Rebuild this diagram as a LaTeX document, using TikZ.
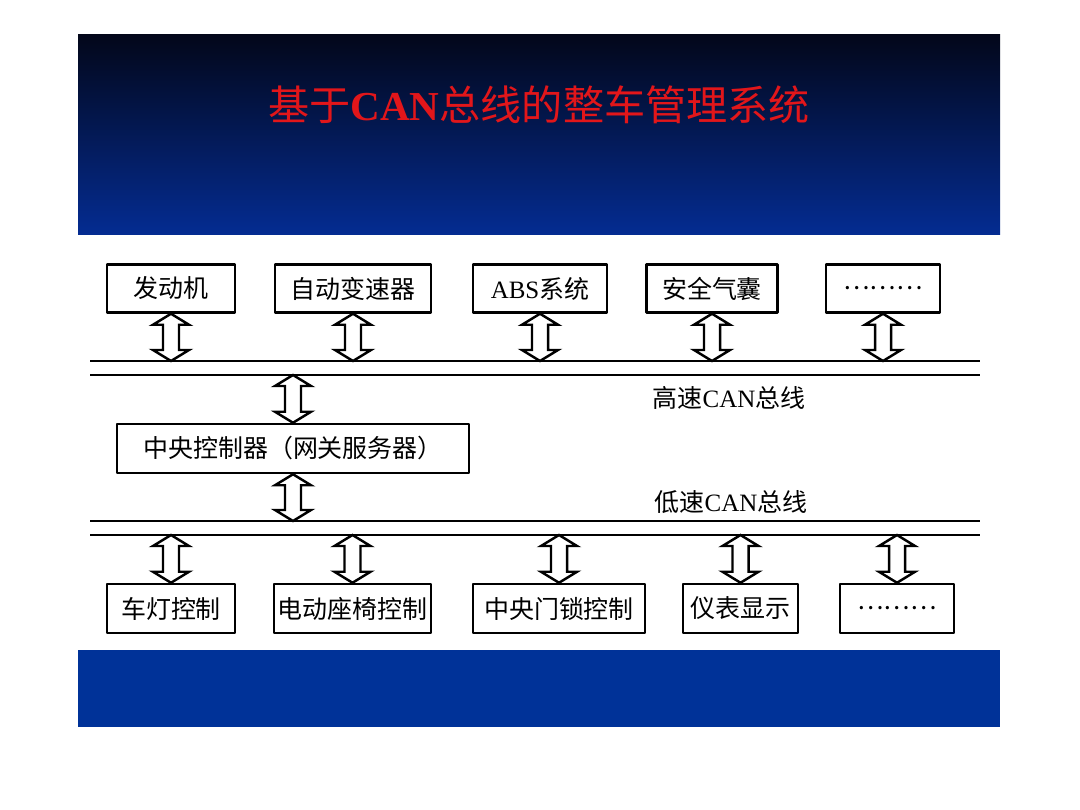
\documentclass[tikz,border=0pt]{standalone}
\usepackage{fontspec}
\setmainfont{Liberation Serif}
\newfontfamily\cjk{Noto Sans CJK SC}
\usetikzlibrary{calc}

\definecolor{bannertop}{RGB}{3,7,26}
\definecolor{bannerbot}{RGB}{4,44,146}
\definecolor{bannerblue}{RGB}{0,50,152}
\definecolor{titlered}{RGB}{226,22,26}

\tikzset{
  unitbox/.style={draw,line width=0.7pt,inner sep=0pt,minimum height=0.48cm,
    font=\fontsize{7.1pt}{8pt}\selectfont},
  busline/.style={line width=0.6pt},
  canarrow/.style={draw,fill=white,line width=0.7pt,line join=miter},
  buslabel/.style={font=\fontsize{7.1pt}{8pt}\selectfont}
}

% hollow double arrow from #1 (top) down to #2 (bottom)
\newcommand\canlink[2]{%
  \path[canarrow] let \p1=#1, \p2=#2 in
    (\x1,\y1) -- (\x1+0.18cm,\y1-0.11cm) -- (\x1+0.08cm,\y1-0.11cm)
    -- (\x1+0.08cm,\y2+0.11cm) -- (\x1+0.18cm,\y2+0.11cm) -- (\x1,\y2)
    -- (\x1-0.18cm,\y2+0.11cm) -- (\x1-0.08cm,\y2+0.11cm)
    -- (\x1-0.08cm,\y1-0.11cm) -- (\x1-0.18cm,\y1-0.11cm) -- cycle;}

\begin{document}
\begin{tikzpicture}[x=0.01cm,y=-0.01cm,line join=round]
  \useasboundingbox[fill=white] (0,0) rectangle (1080,810);

  % banners
  \shade[top color=bannertop,bottom color=bannerbot] (78,35) rectangle (1000,235);
  \fill[bannerblue] (78,650) rectangle (1000,727);
  \node[text=titlered,font=\fontsize{11.7pt}{13pt}\selectfont] (title) at (539,105)
    {{\cjk 基于}\textbf{CAN}{\cjk 总线的整车管理系统}};

  % CAN buses
  \coordinate (hbusA) at (90,361);  \coordinate (hbusAend) at (980,361);
  \coordinate (hbusB) at (90,375);  \coordinate (hbusBend) at (980,375);
  \coordinate (lbusA) at (90,521);  \coordinate (lbusAend) at (980,521);
  \coordinate (lbusB) at (90,535);  \coordinate (lbusBend) at (980,535);
  \draw[busline] (hbusA) -- (hbusAend);
  \draw[busline] (hbusB) -- (hbusBend);
  \draw[busline] (lbusA) -- (lbusAend);
  \draw[busline] (lbusB) -- (lbusBend);
  \node[buslabel] (hlabel) at (729,398) {{\cjk 高速}CAN{\cjk 总线}};
  \node[buslabel] (llabel) at (731,502) {{\cjk 低速}CAN{\cjk 总线}};

  % high speed units
  \node[unitbox,minimum width=1.28cm] (engine) at (171,288.5) {\cjk 发动机};
  \node[unitbox,minimum width=1.56cm] (gearbox) at (353,288.5) {\cjk 自动变速器};
  \node[unitbox,minimum width=1.34cm] (abs) at (540,288.5) {ABS{\cjk 系统}};
  \node[unitbox,minimum width=1.31cm] (airbag) at (712,288.5) {\cjk 安全气囊};
  \node[unitbox,minimum width=1.14cm] (hmore) at (883,288.5) {\cjk ………};

  % gateway
  \node[unitbox,minimum width=3.52cm,minimum height=0.49cm] (gateway) at (293,448.5)
    {\cjk 中央控制器（网关服务器）};

  % low speed units
  \node[unitbox,minimum width=1.28cm,minimum height=0.49cm] (lamp) at (171,608.5) {\cjk 车灯控制};
  \node[unitbox,minimum width=1.57cm,minimum height=0.49cm] (seat) at (352.5,608.5) {\cjk 电动座椅控制};
  \node[unitbox,minimum width=1.72cm,minimum height=0.49cm] (doorlock) at (559,608.5) {\cjk 中央门锁控制};
  \node[unitbox,minimum width=1.15cm,minimum height=0.49cm] (dash) at (740.5,608.5) {\cjk 仪表显示};
  \node[unitbox,minimum width=1.14cm,minimum height=0.49cm] (lmore) at (897,608.5) {\cjk ………};

  % links
  \foreach \unit in {engine,gearbox,abs,airbag,hmore}
    {\canlink{(\unit.south)}{(\unit.south |- hbusA)}}
  \canlink{(gateway.north |- hbusB)}{(gateway.north)}
  \canlink{(gateway.south)}{(gateway.south |- lbusA)}
  \foreach \unit in {lamp,seat,doorlock,dash,lmore}
    {\canlink{(\unit.north |- lbusB)}{(\unit.north)}}
\end{tikzpicture}
\end{document}
